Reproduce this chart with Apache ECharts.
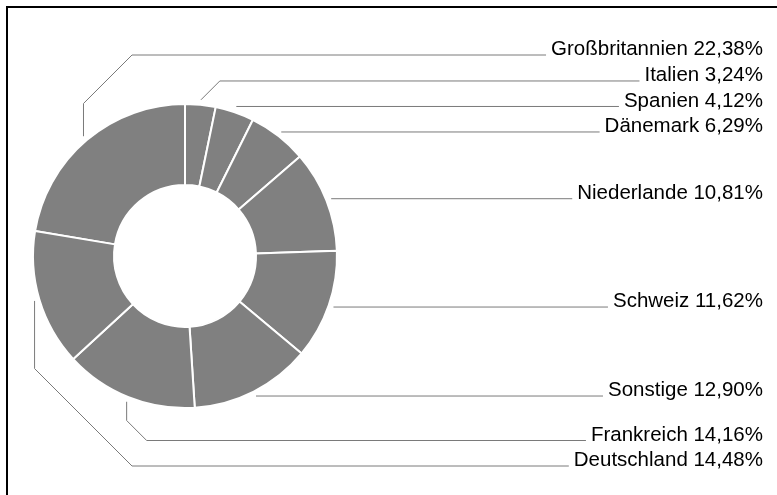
<!DOCTYPE html>
<html>
<head>
<meta charset="utf-8">
<script src="https://cdn.jsdelivr.net/npm/echarts@6/dist/echarts.min.js"></script>
<style>
  html, body { margin: 0; padding: 0; background: #ffffff; }
  #chart { width: 777px; height: 495px; }
</style>
</head>
<body>
<div id="chart"></div>
<script>
// countries in label order (top to bottom), shares in percent
let countries = ["Großbritannien", "Italien", "Spanien", "Dänemark", "Niederlande", "Schweiz", "Sonstige", "Frankreich", "Deutschland"];
let shares = [22.38, 3.24, 4.12, 6.29, 10.81, 11.62, 12.90, 14.16, 14.48];

/* layout constants */
const CX = 185, CY = 256;
const R_IN = 71, R_OUT = 152;
const LINE_GAP = 5;       // leader line starts a bit outside the ring
const LABEL_RIGHT = 763;
const LABEL_STEP = 25.5;
const TOP_Y = 55, BOTTOM_Y = 466;
const ELBOW_X = 132;

let total = shares.reduce(function (a, b) { return a + b; }, 0);
// first slice (Großbritannien) ends at 12 o'clock
let startAngle = 90 + shares[0] / total * 360;

/* work out where each label row goes */
function labelRows() {
  let acc = 0;
  let ys = shares.map(function (v) {
    let a = (startAngle - (acc + v / 2) / total * 360) * Math.PI / 180;
    acc += v;
    let r = R_OUT + LINE_GAP;
    let x = CX + r * Math.cos(a);
    let y = CY - r * Math.sin(a);
    if (x < CX) {
      return y < CY ? TOP_Y : BOTTOM_Y;
    }
    return y;
  });
  for (let i = ys.length - 2; i >= 0; i--) {
    ys[i] = Math.min(ys[i], ys[i + 1] - LABEL_STEP);
  }
  for (let i = 1; i < ys.length; i++) {
    ys[i] = Math.max(ys[i], ys[i - 1] + LABEL_STEP);
  }
  return ys;
}
let rowY = labelRows();

function fmt(v) {
  return v.toFixed(2).replace(".", ",") + "%";
}

let myChart = echarts.init(document.getElementById("chart"), null, { renderer: "canvas" });
let option = {
  backgroundColor: "#ffffff",
  animation: false,
  graphic: [
    {
      type: "rect",
      shape: { x: 7, y: 7, width: 900, height: 700 },
      style: { fill: "none", stroke: "#000000", lineWidth: 2 },
      silent: true,
    },
  ],
  series: [
    {
      type: "pie",
      center: [CX, CY],
      radius: [R_IN, R_OUT],
      startAngle: startAngle,
      clockwise: true,
      avoidLabelOverlap: false,
      silent: true,
      itemStyle: { color: "#808080", borderColor: "#ffffff", borderWidth: 2 },
      label: {
        show: true,
        position: "outside",
        color: "#000000",
        fontFamily: "Liberation Sans",
        fontSize: 20.5,
        formatter: function (p) {
          return p.name + " " + fmt(p.value);
        },
      },
      labelLine: {
        show: true,
        lineStyle: { color: "#7a7a7a", width: 1 },
      },
      labelLayout: function (params) {
        let i = params.dataIndex;
        let pts = params.labelLinePoints;
        let p0 = pts[0], p1 = pts[1];
        let dx = p1[0] - p0[0], dy = p1[1] - p0[1];
        let len = Math.sqrt(dx * dx + dy * dy) || 1;
        let sx = p0[0] + dx / len * LINE_GAP;
        let sy = p0[1] + dy / len * LINE_GAP;
        let ly = rowY[i];
        let endX = LABEL_RIGHT - params.labelRect.width - 5;
        let line;
        if (Math.abs(ly - sy) < 2) {
          line = [[sx, ly], [endX, ly]];
        } else {
          //vertical, then 45 degrees, then across to the text
          let dist = Math.abs(ly - sy);
          let d = Math.min(dist, Math.max(20, ELBOW_X - sx));
          let sign = ly > sy ? 1 : -1;
          line = [[sx, sy], [sx, ly - sign * d], [sx + d, ly], [endX, ly]];
        }
        return {
          x: LABEL_RIGHT,
          y: ly - 5.5,
          align: "right",
          verticalAlign: "middle",
          labelLinePoints: line,
        };
      },
      data: countries.map(function (c, i) {
        return { name: c, value: shares[i] };
      }),
    },
  ],
};
myChart.setOption(option);
</script>
</body>
</html>
